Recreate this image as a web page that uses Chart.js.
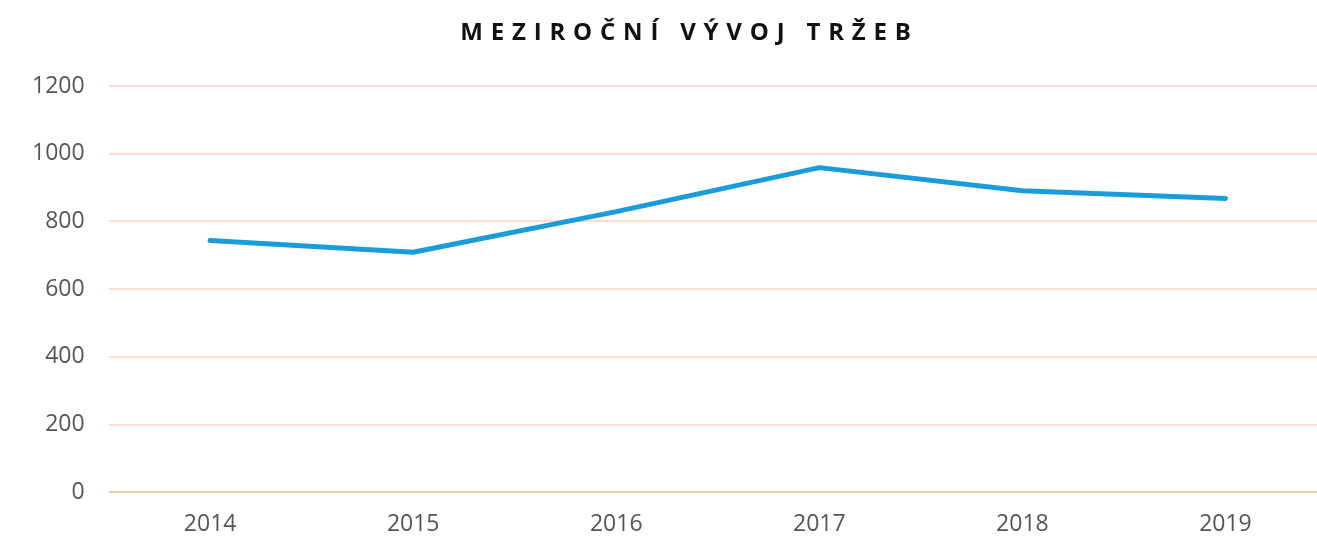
<!DOCTYPE html>
<html lang="cs">
<head>
    <meta charset="UTF-8">
    <title>Meziroční vývoj tržeb</title>
    <script src="https://cdn.jsdelivr.net/npm/chart.js"></script>
    <style>
        body, html {
            margin: 0;
            padding: 0;
            background: #ffffff;
            overflow: hidden;
            font-family: 'Open Sans', sans-serif;
        }
        .title {
            position: absolute;
            top: 14px;
            left: 0;
            width: 1379px;
            text-align: center;
            font-size: 24px;
            font-weight: 700;
            letter-spacing: 7.8px;
            color: #111;
            z-index: 2;
        }
        .chart-box {
            position: absolute;
            left: 0;
            top: 0;
            width: 1327px;
            height: 556px;
        }
    </style>
</head>
<body>
    <div class="title">MEZIROČNÍ VÝVOJ TRŽEB</div>
    <div class="chart-box"><canvas id="revenueChart"></canvas></div>
    <script>
        const years = ['2014', '2015', '2016', '2017', '2018', '2019'];
        const revenue = [744, 709, 829, 959, 891, 868];
        const yTicks = [0, 200, 400, 600, 800, 1000, 1200];

        new Chart(document.getElementById('revenueChart'), {
            type: 'line',
            data: {
                labels: years,
                datasets: [{
                    label: 'Tržby',
                    data: revenue,
                    borderColor: '#1a9cdb',
                    borderWidth: 5,
                    borderCapStyle: 'round',
                    borderJoinStyle: 'round',
                    pointRadius: 0,
                    tension: 0,
                    fill: false
                }]
            },
            options: {
                responsive: true,
                maintainAspectRatio: false,
                animation: false,
                layout: { padding: { left: 8, right: 0, top: 86, bottom: 0 } },
                plugins: { legend: { display: false }, tooltip: { enabled: false } },
                scales: {
                    x: {
                        offset: true,
                        grid: { display: false, drawTicks: false },
                        border: { display: false },
                        ticks: { color: '#555', padding: 18, font: { family: 'Open Sans', size: 23 } }
                    },
                    y: {
                        min: 0,
                        max: 1200,
                        afterBuildTicks: axis => { axis.ticks = yTicks.map(v => ({ value: v })); },
                        grid: {
                            drawTicks: false,
                            color: ctx => ctx.tick && ctx.tick.value === 0 ? '#f8c8a6' : '#fbdfcc',
                            lineWidth: 2
                        },
                        border: { display: false },
                        ticks: {
                            color: '#555',
                            padding: 24,
                            font: { family: 'Open Sans', size: 23 },
                            callback: v => String(v)
                        }
                    }
                }
            }
        });
    </script>
</body>
</html>
